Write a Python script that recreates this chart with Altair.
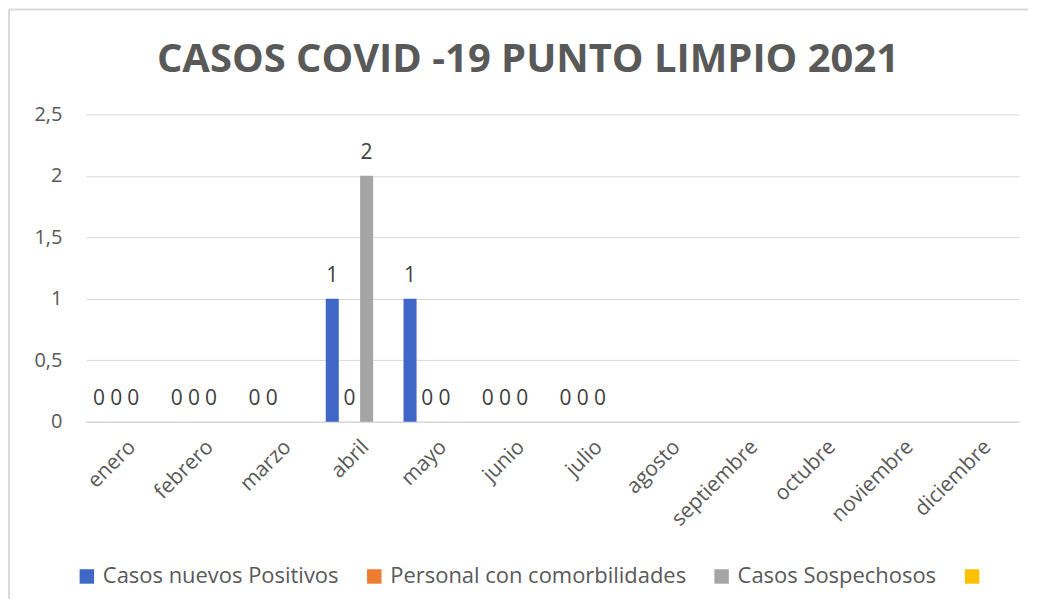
import altair as alt
import pandas as pd

months = ["enero", "febrero", "marzo", "abril", "mayo", "junio", "julio",
          "agosto", "septiembre", "octubre", "noviembre", "diciembre"]
series = ["Casos nuevos Positivos", "Personal con comorbilidades", "Casos Sospechosos", " "]
colors = ["#3F67C6", "#ED7D31", "#A5A5A5", "#FFC000"]

positivos = [0, 0, 0, 1, 1, 0, 0, None, None, None, None, None]
comorbilidades = [0, 0, 0, 0, 0, 0, 0, None, None, None, None, None]
sospechosos = [0, 0, None, 2, 0, 0, 0, None, None, None, None, None]
serie4 = [None, None, None, None, None, None, None, None, None, None, None, None]

y_ticks = [0, 0.5, 1, 1.5, 2, 2.5]
title_text = "CASOS COVID -19 PUNTO LIMPIO 2021"

rows = []
for name, vals in zip(series, [positivos, comorbilidades, sospechosos, serie4]):
    for m, v in zip(months, vals):
        if v is not None:
            rows.append({"mes": m, "serie": name, "valor": v})
df = pd.DataFrame(rows)

W, H = 935, 308
FONT = "Open Sans"
GREY = "#595959"

x = alt.X("mes:N", sort=months,
          scale=alt.Scale(domain=months, paddingInner=0.117, paddingOuter=0.0585),
          axis=alt.Axis(title=None, labelAngle=-45, labelFontSize=21, labelColor=GREY,
                        labelFont=FONT, labelPadding=14, ticks=False,
                        domainColor="#d9d9d9", domainWidth=1.5, grid=False))
y = alt.Y("valor:Q",
          scale=alt.Scale(domain=[0, 2.5], nice=False),
          axis=alt.Axis(title=None, values=y_ticks,
                        labelExpr="replace(format(datum.value, ''), '.', ',')",
                        labelFontSize=20, labelColor=GREY, labelFont=FONT,
                        labelPadding=24, ticks=False, domain=False,
                        gridColor="#d9d9d9", gridWidth=1))
xoff = alt.XOffset("serie:N", scale=alt.Scale(domain=series, paddingInner=0.24, paddingOuter=0.12))

bars = alt.Chart(df).mark_bar().encode(
    x=x, y=y, xOffset=xoff,
    color=alt.Color("serie:N", scale=alt.Scale(domain=series, range=colors),
                    legend=alt.Legend(title=None, orient="none", legendX=-10, legendY=452,
                                      direction="horizontal", columns=4, symbolType="square",
                                      symbolSize=210, symbolStrokeWidth=0, labelFontSize=22,
                                      labelColor=GREY, labelFont=FONT, columnPadding=24,
                                      labelLimit=400, labelOffset=5)),
)

labels = alt.Chart(df).mark_text(dy=-17, baseline="alphabetic", fontSize=21,
                                 color="#404040", font=FONT).encode(
    x=x, y=y, xOffset=xoff, text=alt.Text("valor:Q")
)

one = alt.Data(values=[{"k": 1}])
title = alt.Chart(one).mark_text(text=title_text, font=FONT, fontSize=40, fontWeight="bold",
                                 color=GREY, baseline="alphabetic", align="center").encode(
    x=alt.value(443), y=alt.value(-42)
)
border_left = alt.Chart(one).mark_rule(color="#d9d9d9", strokeWidth=2).encode(
    x=alt.value(-77), y=alt.value(-105), y2=alt.value(485)
)
border_top = alt.Chart(one).mark_rule(color="#d9d9d9", strokeWidth=2).encode(
    x=alt.value(-77), x2=alt.value(944), y=alt.value(-105)
)

chart = alt.layer(border_left, border_top, title, bars, labels).properties(
    width=W, height=H, padding=0, background="white"
).configure_view(stroke=None)

chart.save("out.html", embed_options={"renderer": "svg", "actions": False})
